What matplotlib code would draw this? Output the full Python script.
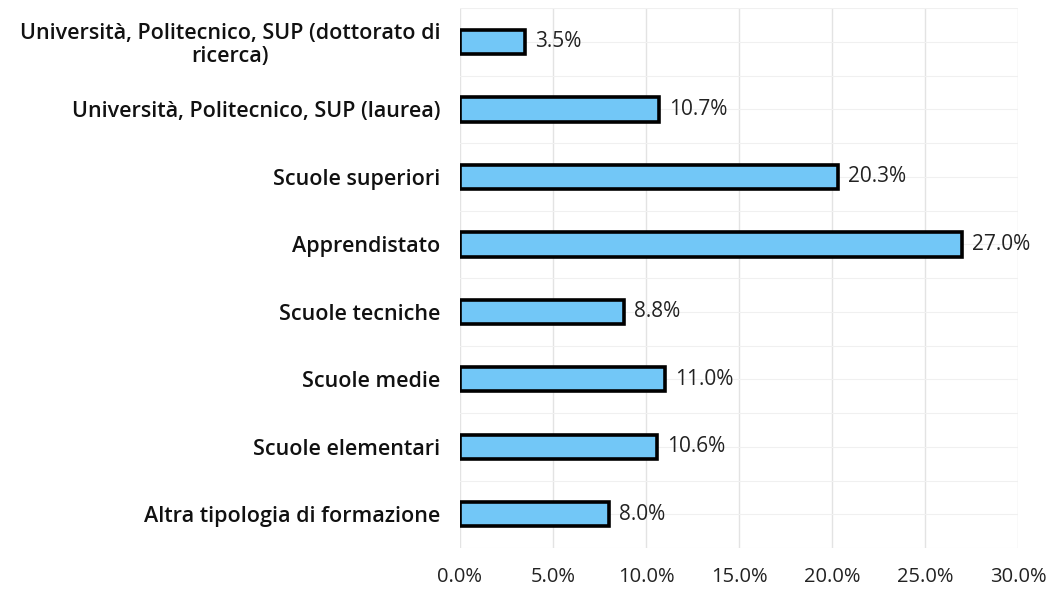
import matplotlib
matplotlib.use('Agg')
import matplotlib.pyplot as plt
from matplotlib.ticker import FuncFormatter, MultipleLocator

categories = [
    "Università, Politecnico, SUP (dottorato di\nricerca)",
    "Università, Politecnico, SUP (laurea)",
    "Scuole superiori",
    "Apprendistato",
    "Scuole tecniche",
    "Scuole medie",
    "Scuole elementari",
    "Altra tipologia di formazione",
]
values = [3.5, 10.7, 20.3, 27.0, 8.8, 11.0, 10.6, 8.0]

FONT = 'Open Sans'

fig = plt.figure(figsize=(10.56, 5.89), dpi=100)
ax = fig.add_axes([0.4356, 0.0696, 0.5284, 0.9164])

y = list(range(len(categories)))
ax.barh(y, values, height=0.36, color='#72C7F7', edgecolor='black', linewidth=2.6, zorder=3)

for yi, v in zip(y, values):
    ax.text(v + 0.55, yi, f"{v:.1f}%", va='center', ha='left',
            fontsize=15, family=FONT, color='#222222')

ax.set_xlim(0, 30)
ax.set_ylim(len(categories) - 0.5, -0.5)
ax.set_yticks(y)
ax.set_yticklabels(categories, fontsize=15.5, family=FONT, fontweight='semibold',
                   color='#111111', ha='right', multialignment='center',
                   linespacing=1.1)
ax.xaxis.set_major_locator(MultipleLocator(5))
ax.xaxis.set_major_formatter(FuncFormatter(lambda x, p: f"{x:.1f}%"))
ax.yaxis.set_minor_locator(MultipleLocator(0.5))
for lab in ax.get_xticklabels():
    lab.set_family(FONT)
    lab.set_fontsize(14.5)
    lab.set_color('#222222')

ax.tick_params(axis='both', which='both', length=0)
ax.tick_params(axis='y', pad=14)
ax.tick_params(axis='x', pad=14)
for s in ax.spines.values():
    s.set_visible(False)
ax.grid(axis='x', color='#e3e3e3', linewidth=1.0, zorder=0)
ax.grid(axis='y', which='both', color='#f0f0f0', linewidth=0.8, zorder=0)

fig.savefig("out.png", dpi=100)
